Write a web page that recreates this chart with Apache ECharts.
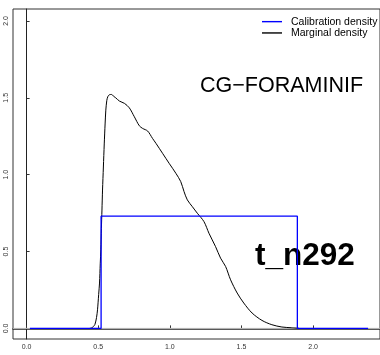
<!DOCTYPE html>
<html>
<head>
<meta charset="utf-8">
<script src="https://cdn.jsdelivr.net/npm/echarts@6/dist/echarts.min.js"></script>
<style>html,body{margin:0;padding:0;background:#fff;}#c{width:380px;height:355px;}</style>
</head>
<body>
<div id="c"></div>
<script>
// Marginal density (black curve)
const margX = [0.44,0.453,0.466,0.477,0.488,0.495,0.503,0.509,0.514,0.518,0.522,0.526,0.530,0.536,0.542,0.548,0.553,0.560,0.568,0.578,0.592,0.608,0.622,0.648,0.683,0.717,0.752,0.787,0.81,0.845,0.879,0.903,0.949,0.995,1.042,1.076,1.099,1.122,1.157,1.192,1.238,1.273,1.319,1.354,1.389,1.424,1.47,1.516,1.574,1.643,1.712,1.782,1.851,1.9];
const margY = [0,0.003,0.012,0.026,0.07,0.121,0.22,0.295,0.42,0.511,0.65,0.77,0.90,1.05,1.2,1.33,1.42,1.484,1.51,1.52,1.522,1.51,1.5,1.479,1.464,1.435,1.377,1.318,1.301,1.284,1.236,1.204,1.139,1.074,1.009,0.955,0.89,0.836,0.792,0.749,0.695,0.619,0.532,0.457,0.403,0.316,0.23,0.165,0.1,0.052,0.024,0.009,0.004,0.001];
// Calibration density (blue step)
const calX = [0.023,0.52,0.52,1.89,1.89,2.384];
const calY = [0,0,0.73,0.73,0,0];
// Tick labels
const xTicks = [0,0.5,1,1.5,2];
const yTicks = [0,0.5,1,1.5,2];
const seriesNames = ['Calibration density','Marginal density'];
const titleText = 'CG\u2212FORAMINIF';
const subText = 't_n292';

const xMin = -0.095, xMax = 2.467, yMin = -0.069, yMax = 2.078;
const FONT = "'Liberation Sans', Arial, Helvetica, sans-serif";

const chart = echarts.init(document.getElementById('c'));
chart.setOption({
  animation: false,
  backgroundColor: '#fff',
  grid: {left: 13, top: 9, width: 369, height: 330, show: true, borderColor: '#333', borderWidth: 1, backgroundColor: 'transparent'},
  xAxis: {
    type: 'value', min: xMin, max: xMax,
    splitLine: {show: false},
    axisLine: {show: true, lineStyle: {color: '#222', width: 1.5}},
    axisTick: {show: true, inside: true, length: 3, customValues: xTicks, lineStyle: {color: '#333'}},
    axisLabel: {customValues: xTicks, formatter: v => v.toFixed(1), fontSize: 7, color: '#333', margin: 5, fontFamily: FONT}
  },
  yAxis: {
    type: 'value', min: yMin, max: yMax,
    splitLine: {show: false},
    axisLine: {show: true, lineStyle: {color: '#222', width: 1}},
    axisTick: {show: true, inside: true, length: 3, customValues: yTicks, lineStyle: {color: '#333'}},
    axisLabel: {customValues: yTicks, formatter: v => v.toFixed(1), fontSize: 7, color: '#333', margin: 3, rotate: 90, fontFamily: FONT}
  },
  legend: {
    data: seriesNames, orient: 'vertical', left: 262, top: 16, padding: 0, itemGap: 0,
    itemWidth: 20, itemHeight: 1.4, icon: 'rect',
    textStyle: {fontSize: 10.5, color: '#000', fontFamily: FONT, lineHeight: 11.3, padding: [0,0,0,4]}
  },
  graphic: [
    {type: 'text', z: 0, x: 200, y: 86, style: {text: titleText, font: '21.5px ' + FONT, fill: '#000', textVerticalAlign: 'middle'}},
    {type: 'text', z: 0, x: 255, y: 256, style: {text: subText, font: 'bold 31.5px ' + FONT, fill: '#000', textVerticalAlign: 'middle'}}
  ],
  series: [
    {name: 'zero', type: 'line', data: [[xMin,0],[xMax,0]], symbol: 'none', lineStyle: {color: '#bebebe', width: 1}, silent: true, z: 1},
    {name: seriesNames[1], type: 'line', data: margX.map((x,i)=>[x, margY[i]]), symbol: 'none', smooth: 0.3, itemStyle: {color: '#000'}, lineStyle: {color: '#000', width: 1}, z: 2},
    {name: seriesNames[0], type: 'line', data: calX.map((x,i)=>[x, calY[i]]), symbol: 'none', itemStyle: {color: '#0000ff'}, lineStyle: {color: '#0000ff', width: 1.3}, z: 3}
  ]
});
</script>
</body>
</html>
